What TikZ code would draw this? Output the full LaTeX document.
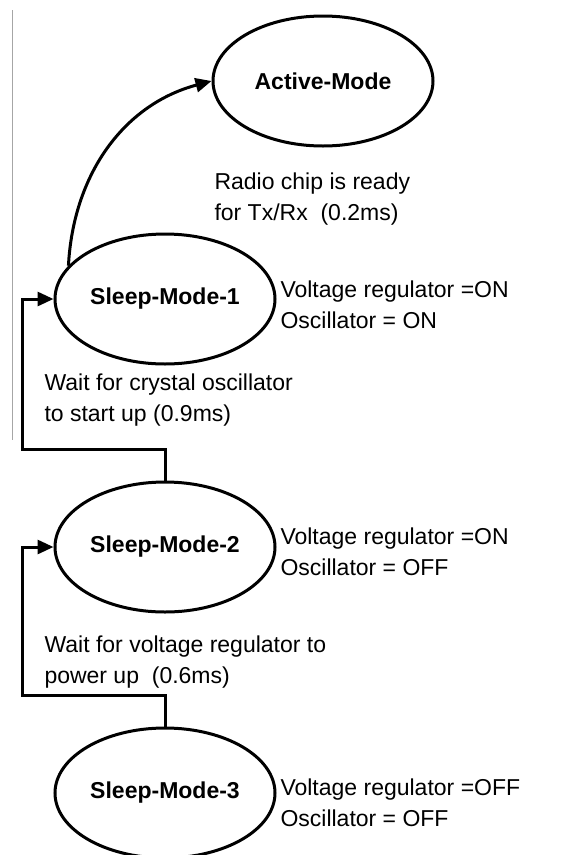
\documentclass[tikz,border=0pt]{standalone}
\usepackage{fontspec}
\setmainfont{Liberation Sans}
\usepackage{tikz}
\usetikzlibrary{arrows.meta,calc,positioning,shapes.geometric}

\begin{document}
\begin{tikzpicture}[x=1pt,y=1pt,line width=3pt,
    state/.style={ellipse,draw=black,minimum width=220pt,minimum height=130pt,inner sep=0pt,
      font=\fontsize{23}{28}\selectfont\bfseries},
    note/.style={anchor=west,align=left,inner sep=0pt,font=\fontsize{23}{31}\selectfont},
    conn/.style={draw=black,-{Triangle[length=16pt,width=14pt]}}]
    \useasboundingbox (0,0) rectangle (585,-855);
    % thin rule at the left
    \draw[gray!70,line width=1pt] (12,-10) -- (12,-440);
    % states
    \node[state] (active) at (323,-81) {Active-Mode};
    \node[state] (sleep1) at (165,-299) {Sleep-Mode-1};
    \node[state] (sleep2) at (165,-547) {Sleep-Mode-2};
    \node[state] (sleep3) at (165,-793) {Sleep-Mode-3};
    % notes
    \node[note] (radio) at (213,-199) {Radio chip is ready\\for Tx/Rx\ \ (0.2ms)};
    \node[note] (s1note) at (279,-305) {Voltage regulator =ON\\Oscillator = ON};
    \node[note] (s2note) at (279,-552) {Voltage regulator =ON\\Oscillator = OFF};
    \node[note] (s3note) at (279,-803) {Voltage regulator =OFF\\Oscillator = OFF};
    \node[note] (waitosc) at (43,-400) {Wait for crystal oscillator\\to start up (0.9ms)};
    \node[note] (waitreg) at (43,-662) {Wait for voltage regulator to\\power up\ \ (0.6ms)};
    % transitions
    \coordinate (bend1) at (22,-449);
    \coordinate (bend2) at (22,-695);
    \draw[conn] (sleep1.161) to[out=87,in=195] (active.west);
    \draw[conn] (sleep2.north) |- (bend1) |- (sleep1.west);
    \draw[conn] (sleep3.north) |- (bend2) |- (sleep2.west);
  \end{tikzpicture}
\end{document}
